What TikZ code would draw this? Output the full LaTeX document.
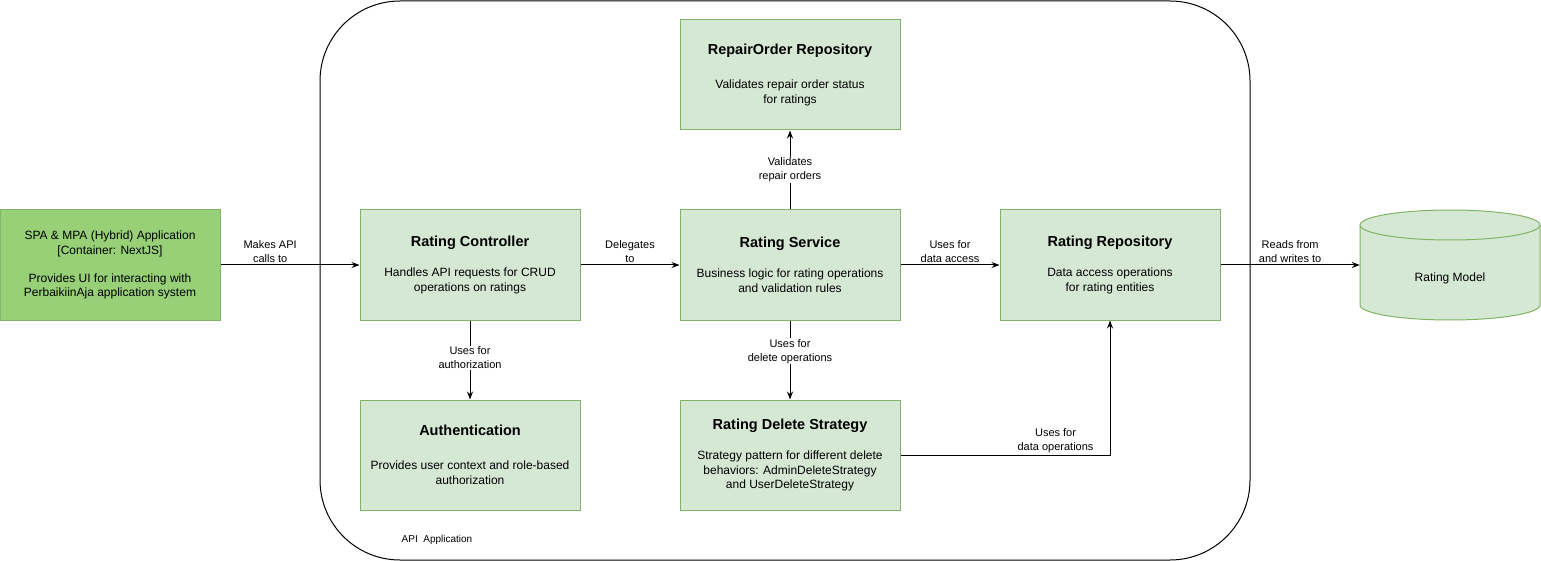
\documentclass[tikz,border=0pt]{standalone}
\usepackage{fontspec}
\setmainfont{Liberation Sans}
\usetikzlibrary{arrows.meta, positioning}
\definecolor{boxfill}{HTML}{D5E8D4}
\definecolor{boxline}{HTML}{82B366}
\definecolor{appfill}{HTML}{97D077}
\newcommand{\ttl}[2][14pt]{{\fontsize{14.5}{17}\selectfont\bfseries #2}\\[#1]}

\begin{document}
\begin{tikzpicture}[x=1pt,y=-1pt]
		\tikzstyle{comp} = [draw=boxline, fill=boxfill, line width=1pt, minimum width=220pt, minimum height=110pt, inner sep=0pt, align=center, font=\fontsize{12}{15}\selectfont]
		\tikzstyle{rel} = [line width=1pt, -{Stealth[length=8pt,width=6pt]}]
		\tikzstyle{lbl} = [font=\fontsize{11}{14}\selectfont, align=center, inner sep=1pt]
		\tikzstyle{vlbl} = [lbl, fill=white]
		\useasboundingbox (0,0) rectangle (1541,561);
		% container
		\node[draw, line width=1pt, rounded corners=80pt, minimum width=930pt, minimum height=559pt] (api) at (785,280.5) {};
		\node[font=\fontsize{10}{12}\selectfont] (apilbl) at (437,540) {API\ \ Application};

		% components
		\node[comp, fill=appfill, font=\fontsize{12}{14.8}\selectfont] (app) at (110,265) {SPA \& MPA (Hybrid) Application\\{[Container: NextJS]}\\[13pt] Provides UI for interacting with\\PerbaikiinAja application system};
		\node[comp] (ctrl) at (470,265) {\ttl[14.5pt]{Rating Controller}Handles API requests for CRUD\\operations on ratings};
		\node[comp] (svc) at (790,265) {\ttl[14.5pt]{Rating Service}Business logic for rating operations\\and validation rules};
		\node[comp] (repo) at (1110,265) {\ttl[14.5pt]{Rating Repository}Data access operations\\for rating entities};
		\node[comp] (rorepo) at (790,75) {\ttl[19pt]{RepairOrder Repository}Validates repair order status\\for ratings};
		\node[comp] (auth) at (470,455) {\ttl[19pt]{Authentication}Provides user context and role-based\\authorization};
		\node[comp, font=\fontsize{12}{14.5}\selectfont] (del) at (790,455) {\ttl[15.5pt]{Rating Delete Strategy}Strategy pattern for different delete\\behaviors: AdminDeleteStrategy\\and UserDeleteStrategy};

		% database
		\draw[boxline, fill=boxfill, line width=1pt] (1360,225) -- (1360,305) arc[start angle=180, end angle=360, x radius=90pt, y radius=15pt] -- (1540,225) arc[start angle=0, end angle=180, x radius=90pt, y radius=15pt] -- cycle;
		\draw[boxline, line width=1pt] (1360,225) arc[start angle=180, end angle=360, x radius=90pt, y radius=15pt];
		\node[minimum width=180pt, minimum height=110pt] (model) at (1450,265) {};
		\node[font=\fontsize{12}{14}\selectfont] (modeltxt) at (1450,278) {Rating Model};

		% relations
		\draw[rel] (app) -- (ctrl) node[lbl, above=1pt, pos=0.357] {Makes API\\calls to};
		\draw[rel] (ctrl) -- (svc) node[lbl, above=1pt, midway] {Delegates\\to};
		\draw[rel] (svc) -- (repo) node[lbl, above=1pt, midway] {Uses for\\data access};
		\draw[rel] (repo) -- (model) node[lbl, above=1pt, midway] {Reads from\\and writes to};
		\draw[rel] (ctrl) -- (auth) node[vlbl, pos=0.47] {Uses for\\authorization};
		\draw[rel] (svc) -- (del) node[vlbl, pos=0.39] {Uses for\\delete operations};
		\draw[rel] (svc) -- (rorepo) node[vlbl, midway] {Validates\\repair orders};
		\draw[rel] (del) -| (repo) node[lbl, above=1pt, pos=0.37] {Uses for\\data operations};
\end{tikzpicture}
\end{document}
